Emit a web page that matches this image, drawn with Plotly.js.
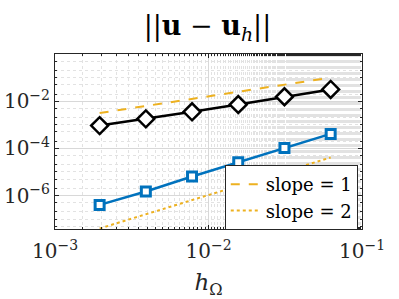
<!DOCTYPE html>
<html><head><meta charset="utf-8">
<script src="https://cdn.plot.ly/plotly-3.0.1.min.js"></script>
<style>html,body{margin:0;padding:0;background:#fff}</style>
</head><body><div id="plot" style="width:399px;height:299px"></div>
<script>
const h = [1/512, 1/256, 1/128, 1/64, 1/32, 1/16];
const errBlack = [9.2e-4, 1.78e-3, 3.54e-3, 7.2e-3, 1.54e-2, 3.15e-2];
const errBlue = [4.0e-7, 1.48e-6, 6.4e-6, 2.6e-5, 1.04e-4, 4.1e-4];
const slope1 = [3.125e-3, 6.25e-3, 1.25e-2, 2.5e-2, 5e-2, 1e-1];
const slope2 = [4.0e-8, 1.6e-7, 6.4e-7, 2.56e-6, 1.02e-5, 4.1e-5];
const xTickVals = [1e-3, 1e-2, 1e-1];
const xTickText = ['10<sup>\u22123</sup>', '10<sup>\u22122</sup>', '10<sup>\u22121</sup>'];
const yTickVals = [1e-6, 1e-4, 1e-2];
const yTickText = ['10<sup>\u22126</sup>', '10<sup>\u22124</sup>', '10<sup>\u22122</sup>'];

const serif = 'DejaVu Serif';
const traces = [
  {x: h, y: slope1, mode: 'lines', name: 'slope = 1', line: {color: '#EDB120', width: 2, dash: 'dash'}, showlegend: true},
  {x: h, y: slope2, mode: 'lines', name: 'slope = 2', line: {color: '#EDB120', width: 2, dash: 'dot'}, showlegend: true},
  {x: h, y: errBlack, mode: 'lines+markers', name: 'black', showlegend: false,
   line: {color: '#000000', width: 2.5},
   marker: {symbol: 'diamond', size: 13, color: '#ffffff', line: {width: 2.5, color: '#000000'}}},
  {x: h, y: errBlue, mode: 'lines+markers', name: 'blue', showlegend: false,
   line: {color: '#0072BD', width: 2.5},
   marker: {symbol: 'square', size: 9, color: '#ffffff', line: {width: 3, color: '#0072BD'}}}
];
const axisCommon = {
  type: 'log', showline: true, mirror: 'ticks', linecolor: '#262626', linewidth: 1,
  ticks: 'inside', ticklen: 4, tickcolor: '#262626',
  showgrid: true, gridcolor: '#d8d8d8', gridwidth: 1, zeroline: false,
  minor: {showgrid: true, gridcolor: '#e2e2e2', griddash: 'dot', ticks: 'inside', ticklen: 2, tickcolor: '#262626'},
  tickfont: {family: serif, size: 20, color: '#262626'}
};
const layout = {
  width: 399, height: 299,
  margin: {l: 55, r: 37, t: 54, b: 70},
  paper_bgcolor: '#fff', plot_bgcolor: '#fff',
  font: {family: serif},
  title: {text: '||<b>u</b> \u2212 <b>u</b><sub><i>h</i></sub>||', font: {family: serif, size: 27, color: '#000'}, x: 0.52, xanchor: 'center', y: 0.915, yanchor: 'middle'},
  xaxis: Object.assign({}, axisCommon, {range: [-3, -1], tickvals: xTickVals, ticktext: xTickText, ticklabelstandoff: 4,
    title: {text: '<i>h</i><sub>\u03a9</sub>', font: {family: serif, size: 23, color: '#262626'}, standoff: 12}}),
  yaxis: Object.assign({}, axisCommon, {range: [-7.42, 0], tickvals: yTickVals, ticktext: yTickText}),
  legend: {x: 0.553, y: 0.366, xanchor: 'left', yanchor: 'top', bgcolor: '#fff', bordercolor: '#262626', borderwidth: 1,
    font: {family: serif, size: 18, color: '#000'}, tracegroupgap: 0, itemwidth: 30},
  showlegend: true
};
Plotly.newPlot('plot', traces, layout, {displayModeBar: false, staticPlot: true});
</script></body></html>
